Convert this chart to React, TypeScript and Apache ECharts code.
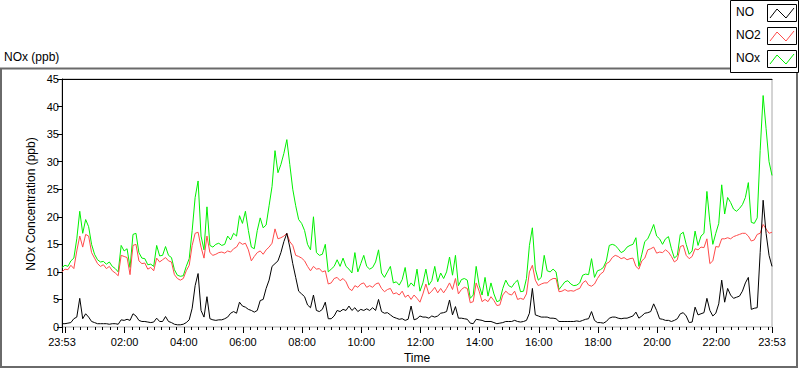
import React, { useEffect, useRef } from "react";
import * as echarts from "echarts";

// Time axis: 24 h starting at 23:53, one sample every 6 minutes
const START_MIN = 23 * 60 + 53;
const STEP_MIN = 6;
const SPAN_MIN = 1440;

const X_LABELS = ["23:53", "02:00", "04:00", "06:00", "08:00", "10:00", "12:00", "14:00", "16:00", "18:00", "20:00", "22:00", "23:53"];
const Y_TICKS = [0, 5, 10, 15, 20, 25, 30, 35, 40, 45];

const SERIES_NAMES = ["NO", "NO2", "NOx"];

const NO = [
  0.6, 0.6, 0.7, 0.8, 1.5, 1.8, 5.2, 1.5, 2.4, 1.8, 1.0,
  0.8, 0.6, 0.6, 0.6, 0.6, 0.5, 0.6, 0.6, 0.5, 1.3,
  1.2, 1.4, 1.2, 2.4, 2.0, 1.2, 1.0, 1.0, 0.9, 0.8,
  0.9, 1.6, 1.0, 1.0, 1.9, 1.0, 0.8, 0.5, 0.4, 0.4,
  0.5, 0.8, 1.3, 3.4, 7.5, 9.7, 3.0, 1.8, 5.5, 1.5,
  1.3, 1.2, 1.3, 1.3, 1.5, 1.8, 2.5, 2.8, 2.5, 4.5,
  3.8, 3.6, 3.2, 3.0, 2.7, 3.0, 4.8, 5.0, 7.0, 8.5,
  11.0, 11.5, 12.0, 13.5, 15.5, 17.0, 14.5, 11.5, 9.0, 6.5,
  6.0, 5.5, 4.0, 3.5, 5.8, 3.0, 2.8, 3.2, 4.5, 1.5,
  1.5, 2.0, 3.0, 2.8, 3.2, 3.0, 3.8, 3.0, 3.5, 2.8,
  3.2, 3.0, 3.3, 3.0, 3.5, 3.0, 5.0, 2.8, 2.5, 2.6,
  2.2, 1.8, 1.6, 1.4, 1.5, 1.2, 1.4, 3.8, 1.3, 1.5,
  2.0, 1.8, 1.8, 1.6, 2.0, 1.8, 2.0, 2.5, 2.6, 2.8,
  4.9, 2.2, 3.7, 1.6, 1.6, 1.5, 1.4, 0.7, 0.6, 1.4,
  1.3, 1.2, 1.0, 1.0, 1.0, 0.8, 0.6, 0.7, 0.8, 1.0,
  1.0, 1.0, 1.2, 1.0, 0.9, 1.0, 1.2, 2.5, 7.0, 2.2,
  2.0, 1.8, 1.8, 1.8, 1.6, 1.6, 1.5, 1.0, 1.0, 1.0,
  1.0, 1.0, 1.0, 1.1, 1.0, 1.2, 1.4, 1.5, 2.8, 1.2,
  0.8, 0.8, 0.7, 1.0, 1.6, 1.8, 1.8, 1.6, 1.5, 1.6,
  1.6, 1.8, 2.0, 2.7, 1.6, 2.0, 2.5, 2.6, 2.8, 4.2,
  3.0, 1.5, 1.4, 1.2, 1.2, 1.0, 1.2, 1.5, 2.4, 2.6,
  2.0, 0.8, 0.9, 3.6, 2.2, 2.4, 2.6, 5.2, 3.0, 2.0,
  2.5, 4.2, 8.5, 4.5, 7.0, 5.8, 5.2, 5.4, 5.6, 6.5,
  8.0, 9.0, 3.2, 3.4, 3.5, 13.5, 23.0, 17.0, 13.0, 11.0,
];

const NO2 = [
  10.0, 10.5, 10.4, 11.2, 10.6, 13.8, 16.5, 14.5, 16.8, 16.5, 13.5,
  12.5, 11.5, 11.0, 11.3, 10.6, 11.0, 10.2, 9.8, 9.3, 13.0,
  12.8, 12.6, 9.5, 14.8, 15.0, 12.0, 11.5, 11.6, 10.5, 10.8,
  10.2, 12.5, 11.8, 12.2, 12.6, 12.0, 11.8, 9.5, 8.8, 8.5,
  8.8, 10.2, 11.2, 14.8, 17.0, 17.2, 14.5, 12.5, 16.5, 13.5,
  13.0, 13.2, 13.5, 13.6, 13.4, 13.8, 13.6, 14.2, 14.5, 15.4,
  15.0, 15.2, 14.0, 12.0, 12.8, 13.5, 13.8, 13.2, 14.0, 14.5,
  15.2, 17.8, 16.0, 16.2, 16.5, 17.0, 15.5, 14.8, 13.0, 12.8,
  12.5, 12.0, 11.0, 10.2, 11.0, 10.5, 10.6, 10.0, 10.2, 7.8,
  8.0, 8.8, 9.0, 8.4, 8.8, 8.2, 7.0, 6.6, 7.5, 7.2,
  7.8, 8.0, 7.2, 7.5, 7.2, 7.8, 8.0, 7.0, 6.4, 6.8,
  7.0, 6.0, 6.2, 5.8, 6.5, 5.4, 5.8, 5.0, 5.8, 5.2,
  4.5, 6.0, 7.8, 6.0, 6.5, 7.2, 6.2, 7.0, 6.2, 7.0,
  8.0, 6.8, 8.8, 6.0, 6.8, 7.2, 7.0, 4.4, 4.6, 8.0,
  6.5, 4.6, 5.0, 4.6, 5.5, 4.8, 3.9, 4.0, 5.8, 6.5,
  6.0, 5.8, 6.5, 5.0, 5.2, 5.0, 6.0, 10.0, 11.2, 8.5,
  7.5, 7.8, 8.0, 8.0, 8.5, 8.8, 8.8, 6.4, 6.5, 6.8,
  6.5, 6.6, 6.5, 6.8, 7.0, 8.0, 8.4, 7.6, 7.4, 7.8,
  8.8, 9.6, 10.0, 11.5, 11.8, 12.6, 13.0, 12.8, 12.4, 12.6,
  12.2, 12.4, 12.5, 11.0, 10.5, 12.0, 12.5, 14.0, 14.2, 14.5,
  13.4, 13.6, 13.5, 14.0, 13.6, 12.8, 11.8, 12.2, 14.6, 14.8,
  13.0, 12.4, 12.8, 14.2, 14.0, 14.5, 14.4, 16.0, 11.5, 12.0,
  14.6, 14.5, 16.0, 16.0, 16.2, 16.0, 16.4, 16.6, 16.8, 17.0,
  17.0, 16.5, 15.6, 15.8, 16.8, 17.0, 18.6, 17.8, 17.0, 17.2,
];

const NOX = [
  10.8, 11.2, 11.0, 12.0, 12.5, 16.0, 21.0, 17.0, 19.5, 18.2, 15.0,
  13.2, 12.2, 11.8, 11.9, 11.4, 11.8, 11.0, 10.6, 10.0, 14.8,
  13.8, 14.2, 10.8, 16.8, 17.0, 13.5, 12.5, 12.4, 11.3, 11.4,
  11.0, 14.8, 12.9, 13.0, 14.6, 13.0, 12.6, 10.4, 9.4, 9.2,
  9.3, 11.0, 12.4, 17.5, 23.5, 26.5, 16.5, 14.0, 21.8, 14.8,
  14.5, 15.0, 15.2, 14.8, 15.0, 16.5, 15.8, 17.0, 16.5, 20.2,
  18.8, 21.0, 17.5, 14.5, 14.2, 17.5, 19.8, 18.0, 18.5, 22.0,
  25.5, 32.0, 28.0, 29.5, 31.5, 34.0, 29.5, 25.0, 22.0, 19.5,
  18.8, 17.5, 15.0, 14.0, 20.0, 13.5, 13.0, 13.2, 15.0, 10.0,
  10.5, 11.0, 12.2, 11.0, 12.5, 11.0, 10.5, 9.8, 13.5, 10.0,
  11.5, 13.0, 11.0, 10.5, 10.8, 11.8, 14.0, 9.8, 9.0, 10.0,
  11.0, 8.0, 8.2, 7.6, 8.6, 10.8, 7.2, 8.0, 7.4, 10.5,
  6.5, 8.0, 10.5, 7.6, 8.4, 11.0, 8.2, 9.8, 8.8, 10.0,
  12.7, 9.4, 13.0, 7.5, 8.6, 8.8, 8.5, 5.2, 5.8, 11.0,
  7.6, 5.8, 9.0, 5.6, 8.0, 6.0, 4.6, 4.8, 7.0, 8.5,
  7.5, 7.2, 8.0, 8.5, 6.4, 6.5, 8.8, 14.8, 18.0, 10.5,
  8.5, 9.0, 13.0, 10.2, 10.0, 10.5, 10.0, 6.8, 7.5, 8.2,
  8.4, 7.8, 7.5, 7.6, 8.0, 9.4, 9.6, 9.5, 12.4, 9.0,
  10.2, 10.4, 10.8, 12.0, 14.8, 15.0, 14.8, 14.2, 13.5, 13.8,
  14.5, 14.8, 15.0, 16.2, 11.0, 13.2, 15.5, 16.0, 17.2, 18.6,
  16.5, 16.0, 15.0, 16.0, 16.4, 14.2, 12.5, 13.0, 16.8, 17.2,
  15.0, 13.2, 13.8, 17.4, 14.8, 16.5, 17.0, 24.6, 19.0, 15.0,
  17.0, 18.8, 25.8, 20.5, 23.5, 22.6, 21.4, 21.0, 21.5, 22.2,
  23.5, 26.2, 19.0, 18.8, 19.8, 32.0, 42.0, 36.0, 30.0, 27.5,
];

const COLORS = { NO: "#000000", NO2: "#ff4a4a", NOx: "#00f000" };
const FONT = "'Liberation Sans', Arial, sans-serif";

function labelToOffset(label: string, isLast: boolean): number {
  const [h, m] = label.split(":").map(Number);
  let off = (h * 60 + m - START_MIN + 1440) % 1440;
  if (isLast && off === 0) off = SPAN_MIN;
  return off;
}

function fmt(v: number): string {
  const mins = Math.round(START_MIN + v) % 1440;
  const h = Math.floor(mins / 60);
  const m = mins % 60;
  return String(h).padStart(2, "0") + ":" + String(m).padStart(2, "0");
}

function toPairs(arr: number[]) {
  return arr.map((v, i) => [i * STEP_MIN, v]);
}

export default function App() {
  const ref = useRef<HTMLDivElement>(null);
  useEffect(() => {
    if (!ref.current) return;
    const chart = echarts.init(ref.current, undefined, { renderer: "svg" });

    const labelVals = X_LABELS.map((l, i) => labelToOffset(l, i === X_LABELS.length - 1));
    const majorVals = [...labelVals];
    const midnight = (1440 - START_MIN) % 1440;
    majorVals.push(midnight);
    const minorVals: number[] = [];
    for (let t = midnight % 15; t <= SPAN_MIN; t += 15) {
      if (!majorVals.includes(t)) minorVals.push(t);
    }

    const legendGraphics: any[] = [];
    const seriesData = [NO, NO2, NOX];
    SERIES_NAMES.forEach((name, k) => {
      const dy = k * 23;
      legendGraphics.push({
        type: "text",
        left: 736,
        top: 6 + dy,
        style: { text: name, fill: "#000", font: `12px ${FONT}` },
        z: 20,
      });
      legendGraphics.push({
        type: "rect",
        shape: { x: 767.5, y: 4.5 + dy, width: 29, height: 17 },
        style: { fill: "#fff", stroke: "#000", lineWidth: 1 },
        z: 20,
      });
      legendGraphics.push({
        type: "polyline",
        shape: { points: [[770, 18 + dy], [777, 9 + dy], [786, 18 + dy], [794, 8 + dy]] },
        style: { stroke: (COLORS as any)[name], lineWidth: 1, fill: "none" },
        z: 21,
      });
    });

    chart.setOption({
      animation: false,
      backgroundColor: "#ffffff",
      textStyle: { fontFamily: FONT },
      grid: {
        left: 62,
        top: 79,
        right: 28,
        bottom: 40,
        show: true,
        borderColor: "#a8a8a8",
        borderWidth: 1,
        backgroundColor: "#ffffff",
        containLabel: false,
      },
      xAxis: [
        {
          type: "value",
          min: 0,
          max: SPAN_MIN,
          position: "bottom",
          axisLine: { show: false },
          axisTick: { show: true, customValues: majorVals, length: 6, lineStyle: { color: "#000" } },
          axisLabel: {
            customValues: labelVals,
            formatter: (v: number) => fmt(v),
            color: "#000",
            fontSize: 11,
            fontFamily: FONT,
            margin: 9,
          },
          splitLine: { show: false },
          name: "Time",
          nameLocation: "middle",
          nameGap: 25,
          nameTextStyle: { color: "#000", fontSize: 12, fontFamily: FONT },
        },
        {
          type: "value",
          min: 0,
          max: SPAN_MIN,
          position: "bottom",
          axisLine: { show: false },
          axisTick: { show: true, customValues: minorVals, length: 3, lineStyle: { color: "#000" } },
          axisLabel: { show: false },
          splitLine: { show: false },
        },
        {
          type: "value",
          min: 0,
          max: SPAN_MIN,
          position: "top",
          axisLine: { show: true, lineStyle: { color: "#000", width: 1 } },
          axisTick: { show: false },
          axisLabel: { show: false },
          splitLine: { show: false },
        },
      ],
      yAxis: {
        type: "value",
        min: Y_TICKS[0],
        max: Y_TICKS[Y_TICKS.length - 1],
        interval: Y_TICKS[1] - Y_TICKS[0],
        axisLine: { show: true, lineStyle: { color: "#000", width: 1 } },
        axisTick: { show: true, inside: false, length: 5, lineStyle: { color: "#000" } },
        axisLabel: { color: "#000", fontSize: 11, fontFamily: FONT, margin: 3 },
        splitLine: { show: false },
      },
      series: [
        {
          name: "NOx",
          type: "line",
          data: toPairs(NOX),
          showSymbol: false,
          lineStyle: { color: COLORS.NOx, width: 1 },
          itemStyle: { color: COLORS.NOx },
          z: 2,
        },
        {
          name: "NO2",
          type: "line",
          data: toPairs(NO2),
          showSymbol: false,
          lineStyle: { color: COLORS.NO2, width: 1 },
          itemStyle: { color: COLORS.NO2 },
          z: 3,
        },
        {
          name: "NO",
          type: "line",
          data: toPairs(NO),
          showSymbol: false,
          lineStyle: { color: COLORS.NO, width: 1 },
          itemStyle: { color: COLORS.NO },
          z: 4,
        },
      ],
      graphic: [
        {
          type: "rect",
          shape: { x: 1, y: 68.5, width: 796, height: 298.5 },
          style: { fill: "none", stroke: "#6a6a6a", lineWidth: 2 },
          z: 10,
          silent: true,
        },
        {
          type: "rect",
          shape: { x: 730.5, y: 0.5, width: 68, height: 72 },
          style: { fill: "#ffffff", stroke: "#000", lineWidth: 1 },
          z: 19,
        },
        {
          type: "text",
          left: 4,
          top: 51,
          style: { text: "NOx (ppb)", fill: "#000", font: `12px ${FONT}` },
          z: 20,
        },
        {
          type: "text",
          x: 31,
          y: 204,
          rotation: Math.PI / 2,
          style: {
            text: "NOx Concentration (ppb)",
            fill: "#000",
            font: `12px ${FONT}`,
            textAlign: "center",
            textVerticalAlign: "middle",
          },
          z: 20,
        },
        ...legendGraphics,
      ],
    });
    void seriesData;
    return () => chart.dispose();
  }, []);

  return (
    <div
      ref={ref}
      style={{ position: "absolute", left: 0, top: 0, width: 800, height: 369, background: "#fff" }}
    />
  );
}
